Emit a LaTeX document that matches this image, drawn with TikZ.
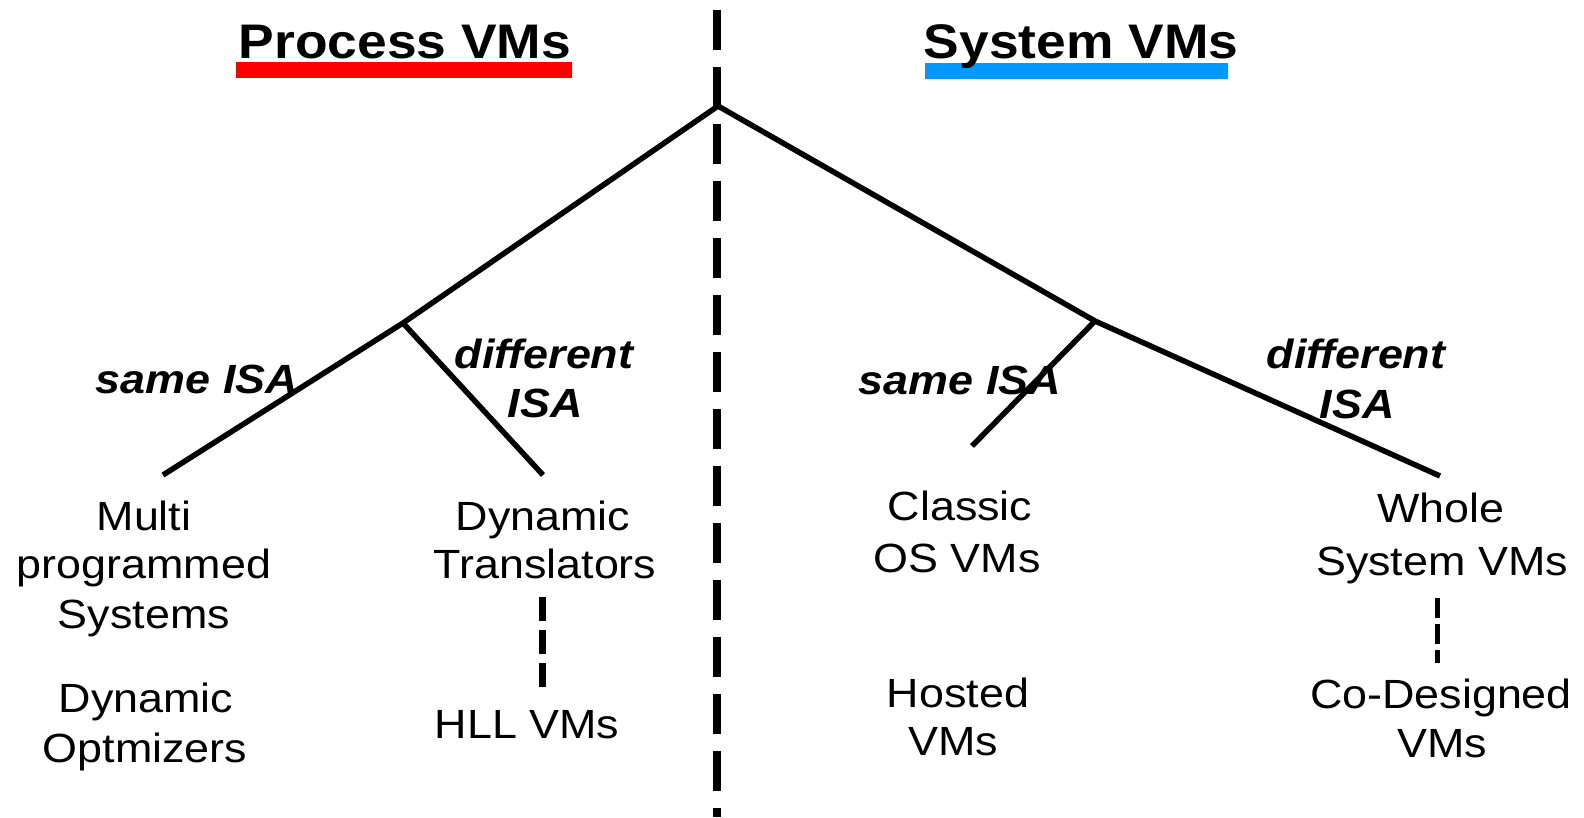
\documentclass[tikz,border=0pt]{standalone}
\usepackage{fontspec}
\setmainfont{Liberation Sans}[FakeStretch=1.1]
\definecolor{procred}{HTML}{FF0000}
\definecolor{sysblue}{HTML}{0099FF}
\tikzset{
  branch/.style={line width=0.055cm, line cap=butt, line join=miter},
  divider/.style={line width=0.08cm, dash pattern=on 0.40cm off 0.17cm},
  linkdash/.style={line width=0.07cm, dash pattern=on 0.24cm off 0.09cm},
  linkdashthin/.style={line width=0.05cm, dash pattern=on 0.20cm off 0.06cm},
  title/.style={anchor=base, inner sep=0pt, font=\fontsize{13.8}{16}\selectfont\bfseries},
  leaf/.style={anchor=base, inner sep=0pt, font=\fontsize{11.6}{14}\selectfont},
  isa/.style={anchor=base, inner sep=0pt, font=\fontsize{11.6}{14}\selectfont\bfseries\itshape},
}
\begin{document}
\begin{tikzpicture}[x=0.01cm, y=-0.01cm]
\useasboundingbox (0,0) rectangle (1584,817);

% headings with coloured underlines
\fill[procred] (236,62) rectangle (572,78);
\fill[sysblue] (925,63) rectangle (1228,79);
\node[title] (procT) at (405,58) {Process VMs};
\node[title] (sysT) at (1081,58) {System VMs};

% vertical divider between the two families
\coordinate (divtop) at (717,10);
\coordinate (divbot) at (717,817);
\draw[divider] (divtop) -- (divbot);

% taxonomy tree
\coordinate (apex) at (718,106);
\coordinate (j1) at (403,323);
\coordinate (l1) at (163,475);
\coordinate (l2) at (543,475);
\coordinate (j2) at (1095,321);
\coordinate (r1) at (972,446);
\coordinate (r2) at (1440,476);
\draw[branch] (l1) -- (j1) -- (apex) -- (j2) -- (r2);
\draw[branch] (j1) -- (l2);
\draw[branch] (j2) -- (r1);

% branch labels
\node[isa] (sameL) at (197,393) {same ISA};
\node[isa] (diffLa) at (544,368) {different};
\node[isa] (diffLb) at (545,417) {ISA};
\node[isa] (sameR) at (960,394) {same ISA};
\node[isa] (diffRa) at (1356,368) {different};
\node[isa] (diffRb) at (1357,418) {ISA};

% process VM leaves
\node[leaf] (multiA) at (144,530) {Multi};
\node[leaf] (multiB) at (144,578) {programmed};
\node[leaf] (multiC) at (144,628) {Systems};
\node[leaf] (optA) at (146,712) {Dynamic};
\node[leaf] (optB) at (145,762) {Optmizers};
\node[leaf] (transA) at (543,530) {Dynamic};
\node[leaf] (transB) at (545,578) {Translators};
\node[leaf] (hll) at (527,738) {HLL VMs};

% system VM leaves
\node[leaf] (classicA) at (960,520) {Classic};
\node[leaf] (classicB) at (957,572) {OS VMs};
\node[leaf] (hostedA) at (958,707) {Hosted};
\node[leaf] (hostedB) at (953,755) {VMs};
\node[leaf] (wholeA) at (1441,522) {Whole};
\node[leaf] (wholeB) at (1442,575) {System VMs};
\node[leaf] (coA) at (1441,708) {Co-Designed};
\node[leaf] (coB) at (1442,757) {VMs};

% dashed links between related leaves
\coordinate (hllTop) at (542,597);
\coordinate (hllBot) at (542,688);
\draw[linkdash] (hllTop) -- (hllBot);
\coordinate (coTop) at (1437,598);
\coordinate (coBot) at (1437,663);
\draw[linkdashthin] (coTop) -- (coBot);
\end{tikzpicture}
\end{document}
